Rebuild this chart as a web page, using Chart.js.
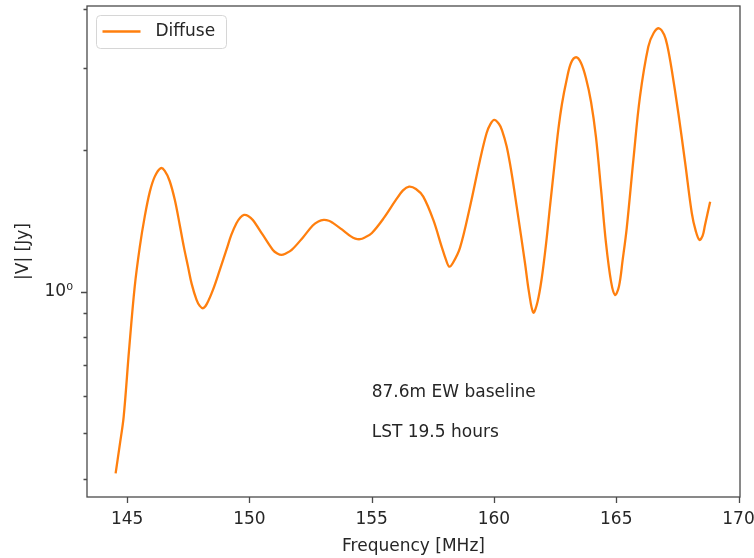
<!DOCTYPE html>
<html><head><meta charset="utf-8">
<script src="https://cdn.jsdelivr.net/npm/chart.js@4.4.1/dist/chart.umd.min.js"></script>
<style>html,body{margin:0;padding:0;background:#fff;} #wrap{width:754px;height:558px;position:relative;}</style>
</head><body><div id="wrap"><canvas id="c" width="754" height="558"></canvas></div>
<script>
const seriesName = 'Diffuse';
const frequencyMHz = [144.53,144.70,144.86,145.08,145.31,145.52,145.72,145.93,146.13,146.37,146.54,146.74,146.95,147.15,147.32,147.49,147.64,147.84,147.97,148.11,148.26,148.51,148.79,149.06,149.26,149.47,149.63,149.78,149.95,150.14,150.55,150.96,151.14,151.31,151.49,151.73,152.19,152.59,152.82,153.04,153.25,153.41,153.78,154.15,154.33,154.52,154.72,155.01,155.50,155.99,156.28,156.53,156.81,157.11,157.52,157.86,158.04,158.17,158.32,158.61,159.02,159.43,159.70,159.86,160.01,160.20,160.33,160.52,160.72,160.93,161.27,161.43,161.61,161.78,161.95,162.13,162.29,162.46,162.63,162.78,162.97,163.15,163.36,163.56,163.76,163.97,164.17,164.38,164.58,164.79,164.95,165.11,165.26,165.43,165.70,165.97,166.31,166.53,166.75,166.96,167.10,167.27,167.54,167.82,168.09,168.25,168.40,168.53,168.63,168.84];
const visibilityJy = [0.411,0.4725,0.5428,0.7526,1.0248,1.2487,1.4463,1.6346,1.7593,1.8336,1.8093,1.7221,1.5700,1.3900,1.2469,1.1319,1.0400,0.9616,0.9337,0.9233,0.9429,1.0098,1.1137,1.2284,1.3222,1.4003,1.4406,1.4583,1.4512,1.4229,1.3222,1.2284,1.2075,1.1987,1.2075,1.2284,1.3061,1.3851,1.4125,1.4229,1.4173,1.4025,1.3583,1.3126,1.2985,1.2947,1.3061,1.3351,1.4370,1.5695,1.6443,1.6750,1.6563,1.5954,1.4229,1.2487,1.1698,1.1319,1.1520,1.2406,1.5188,1.9095,2.1786,2.2778,2.3227,2.2797,2.2083,2.0382,1.7914,1.5188,1.1510,1.0,0.9036,0.9520,1.0660,1.2653,1.5188,1.8361,2.2117,2.5119,2.8253,3.0705,3.1581,3.0705,2.8530,2.5367,2.1370,1.6482,1.2715,1.0502,0.9854,1.0270,1.1670,1.3690,1.9095,2.6033,3.3259,3.5563,3.6401,3.5256,3.3210,2.9673,2.4000,1.8785,1.4706,1.3485,1.2901,1.3157,1.3884,1.5563];
const xTickValues = [145,150,155,160,165,170];
const yMajorTicks = [1];
const yMinorTicks = [0.4,0.5,0.6,0.7,0.8,0.9,2,3,4];
const xLimits = [143.36,170.06];
const yLimits = [0.366,4.06];
const xTitle = 'Frequency [MHz]';
const yTitle = '|V| [Jy]';
const noteTexts = ['87.6m EW baseline','LST 19.5 hours'];
const noteX = [155,155];
const noteY = [0.597,0.492];

const FONT = 'DejaVu Sans';
const TXT = '#262626';
const LINE_COLOR = '#ff7f0e';

const framePlugin = {
  id:'frame',
  afterDraw(chart){
    const {ctx, chartArea:a, scales:{x,y}} = chart;
    ctx.save();
    ctx.font = '17px "' + FONT + '"';
    ctx.fillStyle = TXT; ctx.textBaseline = 'alphabetic'; ctx.textAlign = 'left';
    noteTexts.forEach((t,i)=> ctx.fillText(t, x.getPixelForValue(noteX[i]), y.getPixelForValue(noteY[i])));
    ctx.strokeStyle = '#4a4a4a'; ctx.lineWidth = 1.3;
    ctx.strokeRect(a.left, a.top, a.right-a.left, a.bottom-a.top);
    ctx.beginPath();
    xTickValues.forEach(v=>{ const px = Math.round(x.getPixelForValue(v))+0.5; ctx.moveTo(px,a.bottom); ctx.lineTo(px,a.bottom+6); });
    yMajorTicks.forEach(v=>{ const py = Math.round(y.getPixelForValue(v))+0.5; ctx.moveTo(a.left-6,py); ctx.lineTo(a.left,py); });
    yMinorTicks.forEach(v=>{ if(v<yLimits[0]||v>yLimits[1]) return; const py = Math.round(y.getPixelForValue(v))+0.5; ctx.moveTo(a.left-3.5,py); ctx.lineTo(a.left,py); });
    ctx.stroke();
    const lx = a.left+9.5, ly = a.top+9.5, lw = 130, lh = 33;
    ctx.beginPath();
    ctx.roundRect(lx, ly, lw, lh, 4);
    ctx.fillStyle = 'rgba(255,255,255,0.8)'; ctx.fill();
    ctx.strokeStyle = '#d6d6d6'; ctx.lineWidth = 1; ctx.stroke();
    ctx.beginPath();
    ctx.moveTo(lx+6, ly+16); ctx.lineTo(lx+44, ly+16);
    ctx.strokeStyle = LINE_COLOR; ctx.lineWidth = 2.3; ctx.stroke();
    ctx.fillStyle = TXT; ctx.textBaseline = 'middle';
    ctx.fillText(chart.data.datasets[0].label, lx+59, ly+16.5);
    ctx.restore();
  }
};

new Chart(document.getElementById('c'), {
  type:'line',
  data:{ datasets:[{
    label: seriesName,
    data: frequencyMHz.map((f,i)=>({x:f, y:visibilityJy[i]})),
    borderColor: LINE_COLOR, borderWidth: 2.3, pointRadius: 0, fill:false,
    tension: 0.35
  }]},
  options:{
    responsive:false, animation:false,
    layout:{padding:{left:0,right:14,top:6,bottom:0}},
    plugins:{legend:{display:false}, tooltip:{enabled:false}},
    scales:{
      x:{
        type:'linear', min:xLimits[0], max:xLimits[1],
        afterBuildTicks: s => { s.ticks = xTickValues.map(v=>({value:v})); },
        grid:{display:false, drawTicks:false}, border:{display:false},
        ticks:{font:{family:FONT,size:17}, color:TXT, padding:12, maxRotation:0, autoSkip:false},
        title:{display:true, text:xTitle, font:{family:FONT,size:17}, color:TXT, padding:{top:0,bottom:1}},
        afterFit: s => { s.height = 61; s.paddingLeft = 0; s.paddingRight = 0; }
      },
      y:{
        type:'logarithmic', min:yLimits[0], max:yLimits[1],
        afterBuildTicks: s => { s.ticks = yMajorTicks.map(v=>({value:v})); },
        grid:{display:false, drawTicks:false}, border:{display:false},
        ticks:{font:{family:FONT,size:17}, color:TXT, padding:14, callback: v => v===1 ? '10\u2070' : ''},
        title:{display:true, text:yTitle, font:{family:FONT,size:17}, color:TXT, padding:{top:13,bottom:0}},
        afterFit: s => { s.width = 87; s.paddingTop = 0; s.paddingBottom = 0; }
      }
    }
  },
  plugins:[framePlugin]
});
</script>
</body></html>
